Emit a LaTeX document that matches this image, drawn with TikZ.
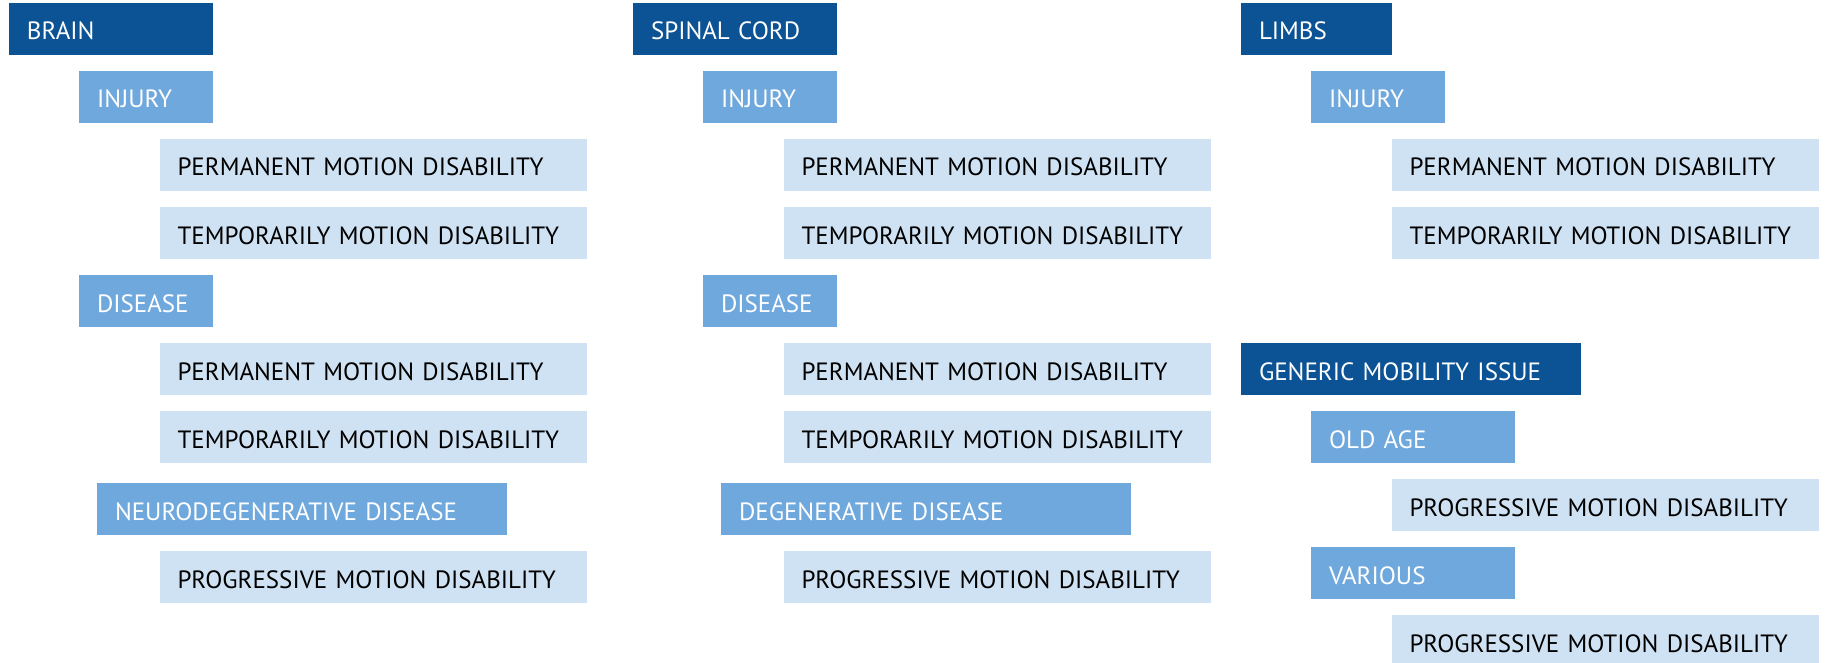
\documentclass[tikz,border=0pt]{standalone}
\usepackage{fontspec}
\setmainfont{PT Sans}
\usetikzlibrary{positioning}

\definecolor{headblue}{HTML}{0B5394}
\definecolor{catblue}{HTML}{6FA8DC}
\definecolor{leafblue}{HTML}{CFE2F3}

\begin{document}
\begin{tikzpicture}[
    x=1pt, y=1pt,
    every node/.style={font=\fontsize{25}{30}\selectfont},
    box/.style={rectangle, anchor=north west, minimum height=52pt, inner xsep=18pt, inner ysep=0pt, outer sep=0pt, text height=22pt, text depth=0pt, align=left},
    head/.style={box, fill=headblue, text=white, text width=#1},
    cat/.style={box, fill=catblue, text=white, text width=#1},
    leaf/.style={box, fill=leafblue, text=black, text width=391pt}
    ]
    \useasboundingbox (0,0) rectangle (1825,-663);

    % brain column
    \node[head=168pt] (brain) at (9,-3) {BRAIN};
    \node[cat=98pt, below right=16pt and 70pt of brain.south west] (b-inj) {INJURY};
    \node[leaf, below right=16pt and 80.5pt of b-inj.south west] (b-inj-p) {PERMANENT MOTION DISABILITY};
    \node[leaf, below right=16pt and 0pt of b-inj-p.south west] (b-inj-t) {TEMPORARILY MOTION DISABILITY};
    \node[cat=98pt, below right=16pt and -80.5pt of b-inj-t.south west] (b-dis) {DISEASE};
    \node[leaf, below right=16pt and 80.5pt of b-dis.south west] (b-dis-p) {PERMANENT MOTION DISABILITY};
    \node[leaf, below right=16pt and 0pt of b-dis-p.south west] (b-dis-t) {TEMPORARILY MOTION DISABILITY};
    \node[cat=374pt, below right=20pt and -62.5pt of b-dis-t.south west] (b-neuro) {NEURODEGENERATIVE DISEASE};
    \node[leaf, below right=16pt and 62.5pt of b-neuro.south west] (b-neuro-p) {PROGRESSIVE MOTION DISABILITY};

    % spinal cord column
    \node[head=168pt] (spine) at (633,-3) {SPINAL CORD};
    \node[cat=98pt, below right=16pt and 70pt of spine.south west] (s-inj) {INJURY};
    \node[leaf, below right=16pt and 80.5pt of s-inj.south west] (s-inj-p) {PERMANENT MOTION DISABILITY};
    \node[leaf, below right=16pt and 0pt of s-inj-p.south west] (s-inj-t) {TEMPORARILY MOTION DISABILITY};
    \node[cat=98pt, below right=16pt and -80.5pt of s-inj-t.south west] (s-dis) {DISEASE};
    \node[leaf, below right=16pt and 80.5pt of s-dis.south west] (s-dis-p) {PERMANENT MOTION DISABILITY};
    \node[leaf, below right=16pt and 0pt of s-dis-p.south west] (s-dis-t) {TEMPORARILY MOTION DISABILITY};
    \node[cat=374pt, below right=20pt and -62.5pt of s-dis-t.south west] (s-degen) {DEGENERATIVE DISEASE};
    \node[leaf, below right=16pt and 62.5pt of s-degen.south west] (s-degen-p) {PROGRESSIVE MOTION DISABILITY};

    % limbs column
    \node[head=115pt] (limbs) at (1241,-3) {LIMBS};
    \node[cat=98pt, below right=16pt and 70pt of limbs.south west] (l-inj) {INJURY};
    \node[leaf, below right=16pt and 80.5pt of l-inj.south west] (l-inj-p) {PERMANENT MOTION DISABILITY};
    \node[leaf, below right=16pt and 0pt of l-inj-p.south west] (l-inj-t) {TEMPORARILY MOTION DISABILITY};

    % generic mobility
    \node[head=304pt, below right=84pt and -150.5pt of l-inj-t.south west] (generic) {GENERIC MOBILITY ISSUE};
    \node[cat=168pt, below right=16pt and 70pt of generic.south west] (g-old) {OLD AGE};
    \node[leaf, below right=16pt and 80.5pt of g-old.south west] (g-old-p) {PROGRESSIVE MOTION DISABILITY};
    \node[cat=168pt, below right=16pt and -80.5pt of g-old-p.south west] (g-var) {VARIOUS};
    \node[leaf, below right=16pt and 80.5pt of g-var.south west] (g-var-p) {PROGRESSIVE MOTION DISABILITY};
\end{tikzpicture}
\end{document}
